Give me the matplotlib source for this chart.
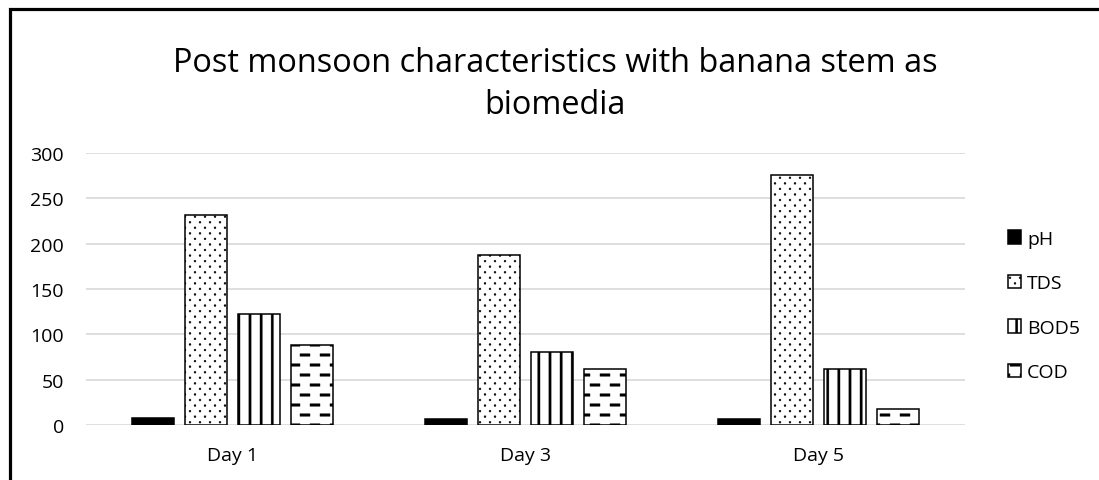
import warnings
warnings.filterwarnings("ignore")
import numpy as np
import matplotlib
matplotlib.use("Agg")
import matplotlib.pyplot as plt
import matplotlib.hatch as mhatch
from matplotlib.path import Path
from matplotlib.patches import Rectangle

# ---------------- data ----------------
categories = ["Day 1", "Day 3", "Day 5"]
series_names = ["pH", "TDS", "BOD5", "COD"]
ph_values = [7.4, 6.9, 6.7]
tds_values = [232, 188, 276]
bod5_values = [122, 80, 62]
cod_values = [88, 62, 18]
y_ticks = [0, 50, 100, 150, 200, 250, 300]
title_text = "Post monsoon characteristics with banana stem as\nbiomedia"


# ---------------- custom hatch patterns (unit tile) ----------------
class CustomHatch(mhatch.HatchPatternBase):
    def __init__(self, hatch, density):
        self.parts = []
        if "d" in hatch:  # staggered small dots
            rows, cols, r = 18, 10, 0.0095
            circ = Path.unit_circle()
            for i in range(rows + 1):
                y = i / rows
                off = 0.5 / cols if i % 2 else 0.0
                for j in range(-1, cols + 1):
                    x = j / cols + off
                    self.parts.append((circ.vertices * r + [x, y], circ.codes))
        if "v" in hatch:  # vertical bars
            n, w = 9, 0.011
            for i in range(n):
                x = (i + 0.5) / n
                v = np.array([[x - w, -0.01], [x + w, -0.01], [x + w, 1.01],
                              [x - w, 1.01], [x - w, -0.01]])
                c = [Path.MOVETO] + [Path.LINETO] * 3 + [Path.CLOSEPOLY]
                self.parts.append((v, np.array(c, dtype=Path.code_type)))
        if "e" in hatch:  # staggered dashes
            rows, per, L, h = 10, 5, 0.10, 0.012
            for i in range(rows + 1):
                y = (i + 0.5) / rows
                off = 0.5 / per if i % 2 else 0.0
                for j in range(-1, per + 1):
                    x0 = j / per + off
                    v = np.array([[x0, y - h], [x0 + L, y - h], [x0 + L, y + h],
                                  [x0, y + h], [x0, y - h]])
                    c = [Path.MOVETO] + [Path.LINETO] * 3 + [Path.CLOSEPOLY]
                    self.parts.append((v, np.array(c, dtype=Path.code_type)))
        self.num_vertices = int(sum(len(p[0]) for p in self.parts))

    def set_vertices_and_codes(self, vertices, codes):
        k = 0
        for v, c in self.parts:
            n = len(v)
            vertices[k:k + n] = v
            codes[k:k + n] = c
            k += n


mhatch._hatch_types.append(CustomHatch)

plt.rcParams["font.family"] = ["Open Sans", "DejaVu Sans"]
plt.rcParams["hatch.linewidth"] = 0.3

W, H = 1099, 481
fig = plt.figure(figsize=(W / 100, H / 100), dpi=100)
ax = fig.add_axes([86 / W, 1 - 426 / H, (965 - 86) / W, (426 - 154) / H])

x = np.arange(len(categories))
step = 0.18
width = 0.143
all_values = [ph_values, tds_values, bod5_values, cod_values]
styles = [
    dict(facecolor="black", hatch=None),
    dict(facecolor="white", hatch="d"),
    dict(facecolor="white", hatch="v"),
    dict(facecolor="white", hatch="e"),
]
handles = []
for i, (name, vals, st) in enumerate(zip(series_names, all_values, styles)):
    bars = ax.bar(x + (i - 1.5) * step, vals, width, facecolor=st["facecolor"],
                  edgecolor="black", linewidth=1.1, hatch=st["hatch"],
                  label=name, zorder=3)
    handles.append(bars)

ax.set_xlim(-0.5, len(categories) - 0.5)
ax.set_ylim(0, 300)
ax.set_yticks(y_ticks)
ax.set_xticks(x)
ax.set_xticklabels(categories)
ax.tick_params(axis="both", length=0, labelsize=14, colors="black")
ax.tick_params(axis="y", pad=16)
ax.tick_params(axis="x", pad=15)
ax.yaxis.grid(True, color="#d9d9d9", linewidth=1.2, zorder=0)
ax.set_axisbelow(True)
for s in ax.spines.values():
    s.set_visible(False)

fig.text(0.505, 1 - 114 / H, title_text, ha="center", va="baseline",
         fontsize=23.4, linespacing=1.38)

leg = fig.legend(handles=handles, labels=series_names, loc="center left",
                 bbox_to_anchor=(1008 / W, 1 - 306.5 / H), frameon=False,
                 fontsize=14, handlelength=0.68, handleheight=0.68,
                 handletextpad=0.3, labelspacing=1.36, borderpad=0,
                 borderaxespad=0)

# outer chart border (left and top visible)
fig.add_artist(Rectangle((10 / W, -0.2), 1.2, 1.2 - 10 / H,
                         transform=fig.transFigure, fill=False,
                         edgecolor="black", linewidth=2.3, clip_on=False))

fig.savefig("out.png", dpi=100)
